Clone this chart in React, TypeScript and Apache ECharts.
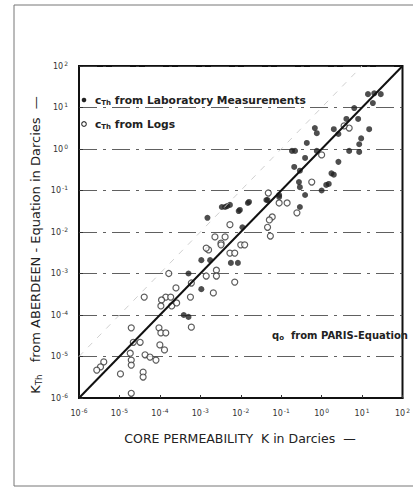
import React, { useEffect, useRef } from "react";
import * as echarts from "echarts";

// Core permeability K (Darcies) vs K_Th from ABERDEEN-Equation (Darcies)
const labK = [1.5e-3, 3.4e-3, 4.6e-3, 8.9e-3, 1.6e-2, 4.3e-2, 8.9e-2, 0.29, 0.275, 1.3, 0.29, 0.21, 0.39, 0.43, 0.68, 0.76, 0.76, 2.0, 2.6, 4.1, 8.0, 15, 8.5, 9.5, 4.8, 8.5, 2.6, 2.0, 1.5, 14, 20, 29, 18.5, 6.4, 0.185, 0.22, 4.1e-3, 5.4e-3, 1.5e-2, 9.5e-3, 1.1e-2, 1.06e-3, 1.75e-3, 5.7e-3, 8.5e-3, 5.1e-4, 1.06e-3, 3.9e-4, 5.1e-4, 8.9e-2, 4.6e-2, 1.0, 0.39, 0.29, 1.75];
const labKTh = [2.2e-2, 4.0e-2, 4.2e-2, 3.2e-2, 5.3e-2, 5.9e-2, 7.0e-2, 0.12, 0.16, 0.136, 0.04, 0.37, 0.61, 1.4, 3.2, 2.4, 0.9, 3.0, 2.3, 5.3, 5.3, 3.0, 1.3, 1.8, 0.9, 0.85, 0.49, 0.24, 0.144, 21, 22, 21, 12.8, 9.7, 0.9, 0.9, 4.0e-2, 4.5e-2, 5.0e-2, 3.4e-2, 1.3e-2, 2.1e-3, 2.1e-3, 1.8e-3, 1.8e-3, 1.0e-3, 4.2e-4, 1.0e-4, 9.0e-5, 7.8e-2, 5.9e-2, 0.1, 7.8e-2, 0.3, 0.26];

const logK = [4.8e-2, 8.9e-2, 0.14, 0.245, 6.0e-2, 5.1e-2, 4.6e-2, 5.4e-2, 5.4e-3, 4.1e-3, 3.25e-3, 1.0e-2, 1.25e-2, 5.4e-3, 7.1e-3, 2.3e-3, 1.6e-3, 3.25e-3, 2.5e-3, 1.66e-4, 1.4e-3, 2.5e-3, 7.1e-3, 6.0e-4, 2.5e-4, 2.1e-3, 1.4e-4, 1.85e-4, 5.7e-4, 4.1e-5, 1.1e-4, 1.06e-4, 1.96e-4, 2.6e-4, 6.0e-4, 9.5e-5, 1.06e-4, 1.4e-4, 1.96e-5, 2.2e-5, 3.25e-5, 1.0e-4, 1.3e-4, 1.85e-5, 4.3e-5, 5.7e-5, 8.0e-5, 1.96e-5, 1.96e-5, 4.1e-6, 3.4e-6, 2.75e-6, 1.06e-5, 3.85e-5, 3.85e-5, 1.96e-5, 0.57, 4.8, 3.6, 1.0, 1.4e-3];
const logKTh = [8.7e-2, 5.0e-2, 5.0e-2, 2.9e-2, 2.3e-2, 1.95e-2, 1.3e-2, 8.0e-3, 1.5e-2, 7.6e-3, 5.4e-3, 4.9e-3, 4.9e-3, 3.1e-3, 3.1e-3, 7.6e-3, 3.7e-3, 4.9e-3, 1.2e-3, 1.0e-3, 8.7e-4, 8.7e-4, 6.2e-4, 5.9e-4, 4.5e-4, 3.4e-4, 2.7e-4, 2.7e-4, 2.7e-4, 2.7e-4, 2.3e-4, 1.65e-4, 1.65e-4, 1.95e-4, 5.1e-5, 4.9e-5, 3.7e-5, 3.7e-5, 4.9e-5, 2.2e-5, 2.2e-5, 1.9e-5, 1.44e-5, 1.2e-5, 1.1e-5, 9.7e-6, 8.2e-6, 8.2e-6, 6.2e-6, 7.4e-6, 5.6e-6, 4.7e-6, 3.8e-6, 4.2e-6, 3.2e-6, 1.3e-6, 0.16, 3.2, 3.6, 0.72, 4.1e-3];

const axisMin = 1e-6;
const axisMax = 1e2;
const identityLine = [[1e-6, 1e-6], [1e2, 1e2]];
const tenfoldLine = [[1e-6, 1e-5], [1e1, 1e2]];

const FONT = "'DejaVu Sans', 'Liberation Sans', Arial, sans-serif";
const INK = "#222";

function tickFmt(v: number) {
  const e = Math.round(Math.log10(v));
  return `{b|10}{s|${e}}`;
}

const tickRich = {
  b: { fontSize: 8, color: "#333", fontFamily: FONT },
  s: { fontSize: 6, color: "#333", fontFamily: FONT, verticalAlign: "top", padding: [0, 0, 6, 1] },
};

function subRich(size: number, subSize: number, bold: boolean) {
  const w = bold ? "bold" : "normal";
  return {
    m: { fontSize: size, fill: INK, fontFamily: FONT, fontWeight: w },
    sub: { fontSize: subSize, fill: INK, fontFamily: FONT, fontWeight: w, padding: [Math.round(size * 0.5), 0, 0, 0] },
    t: { fontSize: size, fill: INK, fontFamily: FONT, fontWeight: w },
  };
}

export default function App() {
  const ref = useRef<HTMLDivElement>(null);
  useEffect(() => {
    if (!ref.current) return;
    const chart = echarts.init(ref.current, null, { renderer: "svg" });
    const option: any = {
      animation: false,
      backgroundColor: "#ffffff",
      grid: {
        left: 79, top: 66, width: 328, height: 332,
        show: true, borderColor: "#111", borderWidth: 2, backgroundColor: "transparent",
      },
      xAxis: {
        type: "log", logBase: 10, min: axisMin, max: axisMax,
        axisLine: { show: true, lineStyle: { color: "#111", width: 2 } },
        axisTick: { show: true, inside: true, length: 3, lineStyle: { color: "#333" } },
        axisLabel: { formatter: tickFmt, rich: tickRich, margin: 9 },
        splitLine: { show: false },
        minorTick: { show: false },
      },
      yAxis: {
        type: "log", logBase: 10, min: axisMin, max: axisMax,
        axisLine: { show: true, lineStyle: { color: "#111", width: 2 } },
        axisTick: { show: true, inside: true, length: 4, lineStyle: { color: "#333" } },
        axisLabel: { formatter: tickFmt, rich: tickRich, margin: 11 },
        splitLine: { show: true, lineStyle: { color: "#444", width: 1.2, type: [18, 6, 3, 6], opacity: 0.85 } },
      },
      series: [
        {
          type: "line", data: tenfoldLine, symbol: "none", silent: true,
          lineStyle: { color: "#cfcfcf", width: 1, type: [6, 7] },
        },
        {
          type: "line", data: identityLine, symbol: "none", silent: true,
          lineStyle: { color: "#111", width: 2 },
        },
        {
          type: "scatter", name: "lab",
          data: labK.map((k, i) => [k, labKTh[i]]),
          symbol: "circle", symbolSize: 6,
          itemStyle: { color: INK },
        },
        {
          type: "scatter", name: "logs",
          data: logK.map((k, i) => [k, logKTh[i]]),
          symbol: "circle", symbolSize: 6,
          itemStyle: { color: "#fff", borderColor: "#333", borderWidth: 1.2 },
        },
      ],
      graphic: [
        { type: "rect", shape: { x: 14, y: 5, width: 420, height: 481 }, style: { fill: "none", stroke: "#777", lineWidth: 1 }, silent: true },
        { type: "circle", shape: { cx: 84, cy: 100, r: 2.3 }, style: { fill: INK } },
        {
          type: "text", x: 95, y: 100,
          style: {
            text: "{m|c}{sub|Th}{t| from Laboratory Measurements}",
            verticalAlign: "middle",
            rich: subRich(10.7, 7, true),
          },
        },
        { type: "circle", shape: { cx: 84, cy: 124, r: 2.3 }, style: { fill: "#fff", stroke: "#333", lineWidth: 1.1 } },
        {
          type: "text", x: 95, y: 124,
          style: {
            text: "{m|c}{sub|Th}{t| from Logs}",
            verticalAlign: "middle",
            rich: subRich(10.7, 7, true),
          },
        },
        {
          type: "text", x: 272, y: 335,
          style: {
            text: "{m|q}{sub|o}{t|  from PARIS-Equation}",
            verticalAlign: "middle",
            rich: subRich(10, 7, true),
          },
        },
        {
          type: "text", x: 240, y: 438,
          style: {
            text: "CORE PERMEABILITY  K in Darcies  —",
            align: "center", verticalAlign: "middle",
            fontSize: 12.5, fill: INK, fontFamily: FONT,
          },
        },
        {
          type: "text", x: 35, y: 245, rotation: Math.PI / 2,
          style: {
            text: "{m|K}{sub|Th}{t|   from ABERDEEN - Equation in Darcies  —}",
            align: "center", verticalAlign: "middle",
            rich: subRich(13, 8.5, false),
          },
        },
      ],
    };
    chart.setOption(option);
    return () => chart.dispose();
  }, []);
  return <div ref={ref} style={{ position: "fixed", left: 0, top: 0, width: 413, height: 487 }} />;
}
